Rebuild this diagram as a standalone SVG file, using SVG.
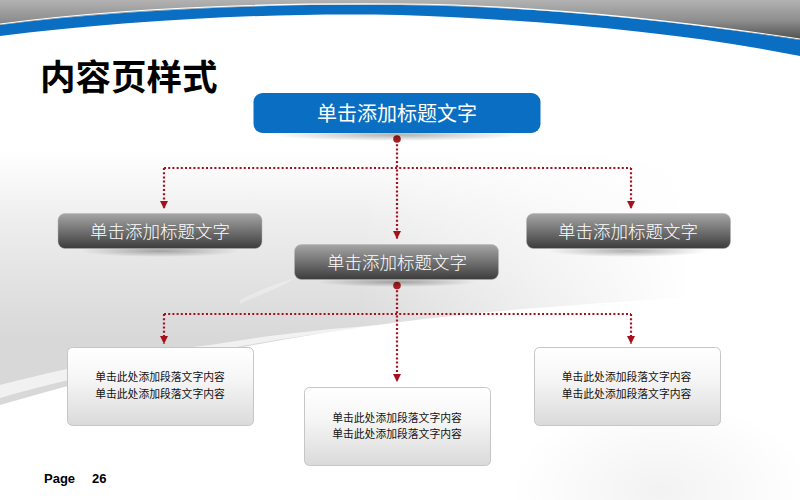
<svg xmlns="http://www.w3.org/2000/svg" width="800" height="500" viewBox="0 0 800 500">
<defs>
<linearGradient id="top" gradientUnits="userSpaceOnUse" x1="0" y1="0" x2="0" y2="40"><stop offset="0" stop-color="#b2b2b2"/><stop offset="0.5" stop-color="#8f8f8f"/><stop offset="1" stop-color="#4e4e4e"/></linearGradient>
<linearGradient id="wedge" gradientUnits="userSpaceOnUse" x1="0" y1="150" x2="0" y2="340"><stop offset="0" stop-color="#fff"/><stop offset="0.35" stop-color="#efefef"/><stop offset="0.75" stop-color="#e0e0e0"/><stop offset="1" stop-color="#d8d8d8"/></linearGradient>
<linearGradient id="fade" gradientUnits="userSpaceOnUse" x1="360" y1="0" x2="690" y2="0"><stop offset="0" stop-color="#fff" stop-opacity="0"/><stop offset="1" stop-color="#fff"/></linearGradient>
<linearGradient id="gray" x1="0" y1="0" x2="0" y2="1"><stop offset="0" stop-color="#a6a6a6"/><stop offset="0.5" stop-color="#717171"/><stop offset="1" stop-color="#3c3c3c"/></linearGradient>
<linearGradient id="card" x1="0" y1="0" x2="0" y2="1"><stop offset="0" stop-color="#fff"/><stop offset="0.4" stop-color="#f6f6f6"/><stop offset="1" stop-color="#dadada"/></linearGradient>
<radialGradient id="shadow"><stop offset="0" stop-color="#000" stop-opacity="0.3"/><stop offset="1" stop-color="#000" stop-opacity="0"/></radialGradient>
<radialGradient id="corner"><stop offset="0" stop-color="#000" stop-opacity="0.05"/><stop offset="1" stop-color="#000" stop-opacity="0"/></radialGradient>
<marker id="arrow" markerUnits="userSpaceOnUse" markerWidth="9" markerHeight="9" refX="8" refY="4.500" orient="auto"><path d="M0 0.500L8 4.500L0 8.500Z" fill="#a80f1c"/></marker>
</defs>
<style>
.zh{font-family:"Noto Sans CJK SC","Liberation Sans",sans-serif}
.head{fill:#fff;text-anchor:middle;font-size:17.5px;font-weight:300}
.body{fill:#111;text-anchor:middle;font-size:10.8px}
.link{fill:none;stroke:#a80f1c;stroke-width:2.200;stroke-dasharray:2 2.200}
.cardbox{fill:url(#card);stroke:#c6c6c6;stroke-width:1}
.graybox{fill:url(#gray);stroke:#b5b5b5;stroke-width:.5}
.dot{fill:#a81c20}
.page{font-family:"Liberation Sans",sans-serif;font-size:13px;font-weight:700;fill:#000}
</style>
<g id="background">
<rect width="800" height="500" fill="#fff"/>
<path d="M0 150H800V290C660 300 520 306 400 322C260 340 120 370 0 405Z" fill="url(#wedge)"/>
<rect x="360" y="150" width="440" height="190" fill="url(#fade)"/>
<path d="M0 385C90 362 150 352 210 345C270 335 330 328 420 322C370 326 280 338 210 352C130 366 70 378 0 398Z" fill="#fff" opacity=".65"/>
<path d="M240 300C255 292 275 284 295 278C280 288 262 294 240 304Z" fill="#fff" opacity=".3"/>
<ellipse cx="660" cy="490" rx="150" ry="90" fill="url(#corner)"/>
<path d="M0 0H800V40C680 22 540 6 400 5C280 4 130 8 0 25Z" fill="url(#top)"/>
</g>
<path id="swoosh" d="M0 25C130 8 280 4 400 5C540 6 680 22 800 40V56C680 32 540 20 400 15C280 12 130 20 0 36Z" fill="#0a6fc2"/>
<path id="swoosh-edge" d="M0 24C130 7 280 3 400 4C540 5 680 21 800 39" fill="none" stroke="#fff" stroke-width="1.200"/>
<text id="title" x="40" y="90" class="zh" font-size="35.500" font-weight="700" fill="#000">内容页样式</text>
<g id="connectors">
<path class="link" d="M397 140V239" marker-end="url(#arrow)"/>
<path class="link" d="M164 168H631"/>
<path class="link" d="M164 168V209" marker-end="url(#arrow)"/>
<path class="link" d="M631 168V209" marker-end="url(#arrow)"/>
<circle class="dot" cx="397" cy="139" r="3.800"/>
<path class="link" d="M397 286V382" marker-end="url(#arrow)"/>
<path class="link" d="M164 314H631"/>
<path class="link" d="M164 314V344" marker-end="url(#arrow)"/>
<path class="link" d="M631 314V344" marker-end="url(#arrow)"/>
<circle class="dot" cx="397" cy="285.500" r="3.800"/>
</g>
<g id="node-top">
<ellipse cx="397" cy="135" rx="125" ry="6" fill="url(#shadow)"/>
<rect x="253.500" y="93" width="287" height="40" rx="9" fill="#0a6fc2"/>
<text x="397" y="121" class="zh" font-size="20" fill="#fff" text-anchor="middle">单击添加标题文字</text>
</g>
<g id="node-left">
<ellipse cx="160" cy="251" rx="80" ry="6" fill="url(#shadow)"/>
<rect x="58" y="213.500" width="204" height="35" rx="7" class="graybox"/>
<text x="160" y="238" class="zh head">单击添加标题文字</text>
</g>
<g id="node-center">
<ellipse cx="397" cy="282" rx="80" ry="5" fill="url(#shadow)"/>
<rect x="294.500" y="244.500" width="204" height="35" rx="7" class="graybox"/>
<text x="397" y="269" class="zh head">单击添加标题文字</text>
</g>
<g id="node-right">
<ellipse cx="628" cy="251" rx="80" ry="6" fill="url(#shadow)"/>
<rect x="526.500" y="213.500" width="204" height="35" rx="7" class="graybox"/>
<text x="628" y="238" class="zh head">单击添加标题文字</text>
</g>
<g id="card-left">
<rect x="67.500" y="347.500" width="186" height="78" rx="5" class="cardbox"/>
<text x="160" y="381" class="zh body">单击此处添加段落文字内容</text>
<text x="160" y="397.500" class="zh body">单击此处添加段落文字内容</text>
</g>
<g id="card-center">
<rect x="304.500" y="387.500" width="186" height="78" rx="5" class="cardbox"/>
<text x="397" y="421.500" class="zh body">单击此处添加段落文字内容</text>
<text x="397" y="438" class="zh body">单击此处添加段落文字内容</text>
</g>
<g id="card-right">
<rect x="534.500" y="347.500" width="186" height="78" rx="5" class="cardbox"/>
<text x="626.500" y="381" class="zh body">单击此处添加段落文字内容</text>
<text x="626.500" y="397.500" class="zh body">单击此处添加段落文字内容</text>
</g>
<text id="page-label" x="44" y="483" class="page">Page</text>
<text id="page-num" x="92" y="483" class="page">26</text>
</svg>
